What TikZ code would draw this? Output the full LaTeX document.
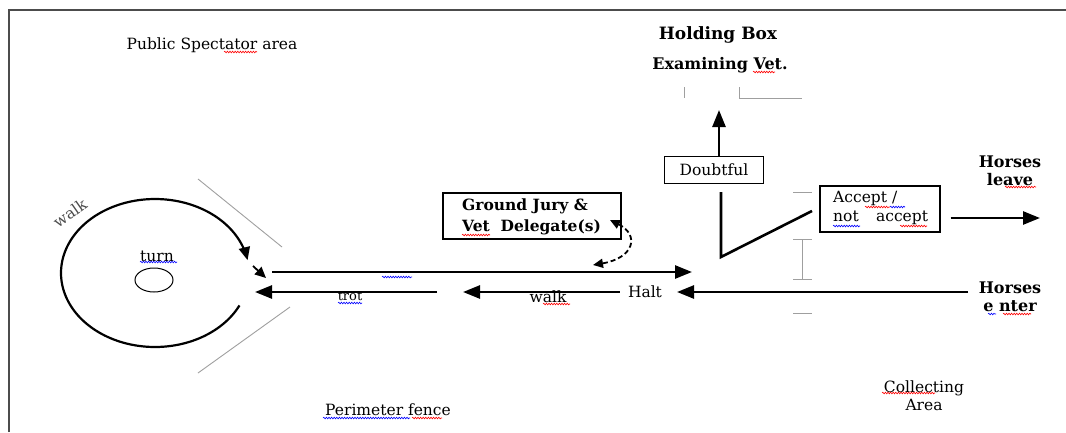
\documentclass[tikz,border=0pt]{standalone}
\usepackage{fontspec}
\setmainfont{DejaVu Serif}
\usetikzlibrary{arrows.meta,decorations.pathmorphing}
\begin{document}
\begin{tikzpicture}[x=1pt,y=-1pt,
  arr/.style={line width=2.6pt,-{Triangle[length=17pt,width=13pt]}},
  fencel/.style={gray!75,line width=0.9pt},
  lbl/.style={inner sep=0pt,font=\fontsize{15.5}{18}\selectfont},
  blbl/.style={inner sep=0pt,font=\bfseries\fontsize{16}{18}\selectfont},
  boxn/.style={draw,line width=1.3pt,inner sep=0pt},
  sqr/.style={red,line width=0.6pt,decorate,decoration={snake,amplitude=0.8pt,segment length=2.6pt}},
  sqb/.style={blue,line width=0.6pt,decorate,decoration={snake,amplitude=0.8pt,segment length=2.6pt}}]
\useasboundingbox (0,0) rectangle (1066,432);
% frame
\draw[gray!60!black,line width=1.8pt] (9,432) -- (9,10) -- (1066,10);
% texts
\node[lbl] (pub) at (212,45) {Public Spectator area};
\draw[sqr] (224,52) -- (257,52);
\node[lbl,gray!60!black,rotate=35] (walk1) at (70,213) {walk};
\node[lbl] (turn) at (157,256) {turn};
\draw[sqb] (140,262) -- (177,262);
\draw[line width=1pt] (154,280) ellipse[x radius=19,y radius=12];
% loop
\draw[line width=2.2pt,-{Triangle[length=13pt,width=11pt]}] plot[domain=26:350,samples=80,smooth] ({155+94*cos(\x)},{273+74*sin(\x)});
\coordinate (l1) at (253,266);
\coordinate (l2) at (266,278);
\draw[line width=1.8pt,-{Triangle[length=11pt,width=10pt]}] (l1) -- (l2);
% fence lines
\draw[fencel] (198,179) -- (282,247);
\draw[fencel] (198,373) -- (290,307);
% main arrows
\coordinate (u1) at (272,272); \coordinate (u2) at (692,272);
\draw[arr] (u1) -- (u2);
\draw[sqb] (382,277) -- (412,277);
\coordinate (t1) at (437,292); \coordinate (t2) at (255,292);
\node[lbl,font=\fontsize{13}{15}\selectfont] (trot) at (350,296) {trot};
\draw[arr] (t1) -- (t2);
\draw[sqb] (338,303) -- (362,303);
\node[lbl] (halt) at (645,292) {Halt};
\coordinate (w2) at (463,292);
\node[lbl] (walk2) at (548,297) {walk};
\draw[arr] ([xshift=-8pt]halt.west) -- (w2);
\draw[sqr] (543,304) -- (570,304);
\node[blbl,align=center] (enter) at (1010,297) {Horses\\e nter};
\draw[sqb] (988,314) -- (996,314);
\draw[sqr] (1003,314) -- (1031,314);
\coordinate (e2) at (677,292);
\draw[arr] (968,292) -- (e2);
% ground jury
\node[boxn,minimum width=178pt,minimum height=46pt] (gj) at (532,216) {};
\node[blbl,align=left,anchor=west,font=\bfseries\fontsize{15.5}{21}\selectfont] (gjt) at (462,217) {Ground Jury \&\\Vet\ \ Delegate(s)};
\draw[sqr] (462,235) -- (490,235);
\coordinate (d1) at (593,265);
\draw[line width=1.8pt,dash pattern=on 5pt off 3pt,{Triangle[length=10pt,width=9pt]}-{Triangle[length=10pt,width=9pt]}] (610,220) .. controls (640,235) and (634,258) .. (d1);
% holding box
\node[blbl,font=\bfseries\fontsize{17}{19}\selectfont] (hb) at (718,35) {Holding Box};
\node[blbl] (ev) at (720,65) {Examining Vet.};
\draw[sqr] (753,72) -- (775,72);
\draw[fencel] (684,87) -- (684,98);
\draw[fencel] (739,87) -- (739,98) -- (802,98);
% doubtful
\node[boxn,minimum width=99pt,minimum height=27pt,lbl,inner sep=0pt,draw,line width=1.3pt] (dbt) at (714,170) {Doubtful};
\coordinate (hbtip) at (719,110);
\draw[arr] (dbt.north -| hbtip) -- (hbtip);
\coordinate (v1) at (721,192); \coordinate (v2) at (721,257); \coordinate (v3) at (812,211);
\draw[line width=2.6pt] (v1) -- (v2) -- (v3);
% ticks
\draw[fencel] (793,192) -- (812,192);
\draw[fencel] (793,239) -- (812,239) (802,239) -- (802,279) (793,279) -- (812,279);
\draw[fencel] (793,313) -- (812,313);
% accept
\node[boxn,minimum width=120pt,minimum height=46pt] (acc) at (880,209) {};
\node[lbl,anchor=west] (acct) at (833,198) {Accept /};
\node[lbl,anchor=west] (nacct) at (833,218) {not\ \ \ \,accept};
\draw[sqr] (865,207) -- (890,207);
\draw[sqb] (890,207) -- (905,207);
\draw[sqb] (833,226) -- (860,226);
\draw[sqr] (900,226) -- (927,226);
\coordinate (lv) at (1040,218);
\draw[arr] ([xshift=10pt]acc.east |- lv) -- (lv);
\node[blbl,align=center] (leave) at (1010,171) {Horses\\leave};
\draw[sqr] (1005,187) -- (1036,187);
% bottom
\node[lbl,align=center] (coll) at (924,396) {Collecting\\Area};
\draw[sqr] (882,393) -- (935,393);
\node[lbl] (perim) at (388,410) {Perimeter fence};
\draw[sqb] (323,418) -- (410,418);
\draw[sqr] (412,418) -- (442,418);
\end{tikzpicture}
\end{document}
